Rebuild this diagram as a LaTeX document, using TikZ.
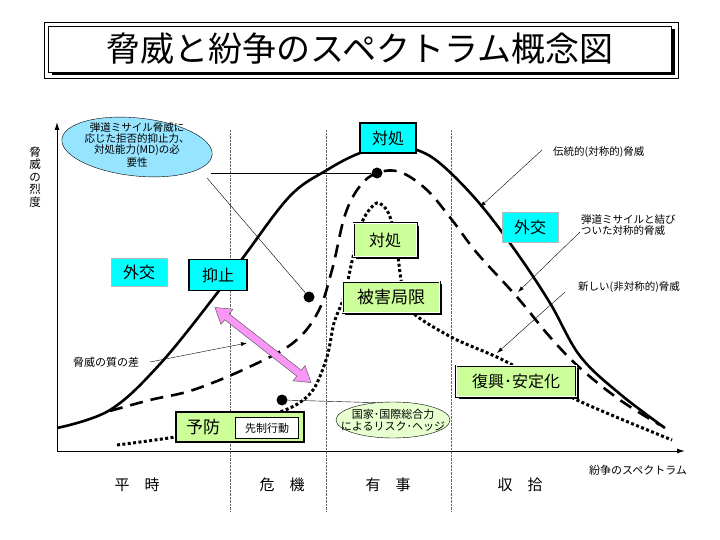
\documentclass[tikz,border=0pt]{standalone}
\usepackage{fontspec}
\setmainfont{Noto Sans CJK JP}
\usetikzlibrary{arrows.meta,shapes.geometric,shapes.arrows,shadows}
\definecolor{kcyan}{RGB}{0,255,255}
\definecolor{kgreen}{RGB}{204,255,153}
\definecolor{ellcyan}{RGB}{150,228,255}
\definecolor{ellgreen}{RGB}{232,255,208}
\definecolor{kpink}{RGB}{250,150,245}
\newcommand{\fs}[1]{\fontsize{#1}{#1}\selectfont}

\begin{document}
\begin{tikzpicture}[x=1pt,y=-1pt,>=Latex]
  \tikzset{cbox/.style={draw,line width=1.2pt,fill=kcyan,minimum width=56pt,minimum height=30pt,inner sep=0pt,font=\fs{16}},
    cboxthin/.style={cbox,draw=gray!55,line width=0.4pt},
    gbox/.style={draw,line width=0.6pt,double=white,double distance=0.8pt,fill=kgreen,inner sep=0pt,font=\fs{16},drop shadow={opacity=1,fill=black,shadow xshift=2.5pt,shadow yshift=-2.5pt}},
    lbl/.style={font=\fs{10.5},inner sep=1pt},
    dot/.style={circle,fill=black,minimum size=11pt,inner sep=0pt},
    lead/.style={thin,-{Latex[length=6pt,width=4pt]}},
    thick curve/.style={line width=2.6pt,line join=round},
    divline/.style={densely dotted,thin,gray!80!black}}
  \useasboundingbox (0,0) rectangle (720,540);

  % title
  \node[draw,thin,fill=white,minimum width=623pt,minimum height=46pt,font=\fs{34},drop shadow={opacity=1,fill=black,shadow xshift=3.5pt,shadow yshift=-3.5pt}] (title) at (360,49) {脅威と紛争のスペクトラム概念図};
  \draw[thin] ([xshift=-4pt,yshift=4pt]title.north west) rectangle ([xshift=6pt,yshift=-6pt]title.south east);

  % axes and period dividers
  \coordinate (O) at (57,451);\coordinate (ytip) at (57,122);\coordinate (xtip) at (685,451);
  \foreach \x in {230,326,451}{\draw[divline] (\x,130) -- (\x,512);}
  \draw[line width=1pt,{Latex[length=8pt,width=5pt]}-{Latex[length=8pt,width=5pt]}] (ytip) -- (O) -- (xtip);
  \node[font={\fontsize{11.5}{12.5}\selectfont},align=center,inner sep=0pt] (ylab) at (35,177) {脅\\威\\の\\烈\\度};
  \node[lbl,font=\fs{11}] (xlab) at (638,470) {紛争のスペクトラム};
  \node[font=\fs{15}] (heiji) at (137,485) {平\hspace{1em}時};\node[font=\fs{15}] (kiki) at (282,485) {危\hspace{1em}機};
  \node[font=\fs{15}] (yuji) at (388,485) {有\hspace{1em}事};\node[font=\fs{15}] (shushu) at (520,485) {収\hspace{1em}拾};

  % threat curves
  \draw[thick curve] plot[smooth,tension=0.6] coordinates {(57,428) (110,410) (160,364) (218,292) (245,255) (290,196) (327,170) (360,153) (390,146) (417,150) (442,165) (480,204) (517,253) (550,303) (580,356) (620,394) (665,428)};
  \draw[thick curve,dash pattern=on 13pt off 8pt] plot[smooth,tension=0.6] coordinates {(110,411) (150,400) (193,390) (247,368) (293,343) (318,312) (332,270) (345,215) (360,186) (377,173) (400,172) (427,190) (452,220) (477,253) (517,297) (550,337) (580,368) (620,400) (660,425)};
  \draw[line width=3pt,dash pattern=on 3pt off 2.4pt] plot[smooth,tension=0.5] coordinates {(117,445) (175,437) (240,424) (290,408) (313,390) (327,357) (334,323) (343,300) (348,280) (353,257) (363,220) (377,203) (389,214) (397,250) (402,285) (412,312) (453,338) (503,360) (577,400) (672,440)};

  % ellipses and their pointers
  \node[ellipse,draw,thin,fill=ellcyan,minimum width=151pt,minimum height=58pt,rotate=-6] (ellA) at (137,147) {};
  \node[font=\fs{10.5},align=center,inner sep=0pt] (ellAtxt) at (137,145) {弾道ミサイル脅威に\\[0.6pt]応じた拒否的抑止力、\\[0.6pt]対処能力(MD)の必\\[0.6pt]要性};
  \node[ellipse,draw,thin,fill=ellgreen,minimum width=114pt,minimum height=36pt] (ellB) at (393,420) {};
  \node[font=\fs{11},align=center,inner sep=0pt] (ellBtxt) at (393,420) {国家･国際総合力\\[1pt]によるリスク･ヘッジ};
  \node[dot] (dot1) at (377,173) {};\node[dot] (dot2) at (309,297) {};\node[dot] (dot3) at (282,400) {};
  \coordinate (ellAa) at (211,173);\coordinate (ellAb) at (207,178);
  \draw[thin] (ellAa) -- (dot1);\draw[thin] (ellAb) -- (dot2);\draw[thin] (dot3) -- (ellB.135);

  % boxes
  \node[cbox] (taisho1) at (388,138) {対処};
  \node[cboxthin] (gaiko1) at (530,227) {外交};\node[cboxthin,minimum height=28pt] (gaiko2) at (139,272) {外交};
  \node[cbox,minimum width=58pt,minimum height=31pt] (yokushi) at (218,275) {抑止};
  \node[gbox,minimum width=63pt,minimum height=33pt] (taisho2) at (385,240) {対処};
  \node[gbox,minimum width=97pt,minimum height=31pt,font=\fs{17}] (higai) at (391,297) {被害局限};
  \node[gbox,minimum width=120pt,minimum height=31pt] (fukko) at (516,381) {復興･安定化};
  \node[draw,line width=2.8pt,fill=kgreen,minimum width=128pt,minimum height=30pt] (yobo) at (240,427) {};
  \node[font=\fs{17},inner sep=0pt] (yobotxt) at (203,427) {予防};
  \node[draw,thin,fill=white,minimum width=63pt,minimum height=21pt,inner sep=0pt,font=\fs{11}] (senzai) at (267,428) {先制行動};

  % quality gap arrow
  \node[double arrow,draw=black!70,thin,fill=kpink,minimum height=122pt,inner sep=3.5pt,double arrow head extend=6pt,double arrow tip angle=65,rotate=-38] (gap) at (263,345) {};

  % labels with leaders
  \node[lbl,anchor=west] (trad) at (552,152) {伝統的(対称的)脅威};
  \node[lbl,anchor=west,align=left] (bm) at (580,225) {弾道ミサイルと結び\\[1pt]ついた対称的脅威};
  \node[lbl,anchor=west] (newth) at (577,287) {新しい(非対称的)脅威};
  \node[lbl,anchor=west,font=\fs{11}] (qual) at (72,362) {脅威の質の差};
  \coordinate (tradS) at (542,150);\coordinate (tradT) at (480,207);
  \coordinate (bmS) at (580,232);\coordinate (bmT) at (518,292);
  \coordinate (newS) at (565,292);\coordinate (newT) at (497,353);
  \coordinate (qualS) at (150,362);\coordinate (qualT) at (247,343);
  \foreach \a/\b in {tradS/tradT,bmS/bmT,newS/newT,qualS/qualT}{\draw[lead] (\a) -- (\b);}
\end{tikzpicture}
\end{document}
